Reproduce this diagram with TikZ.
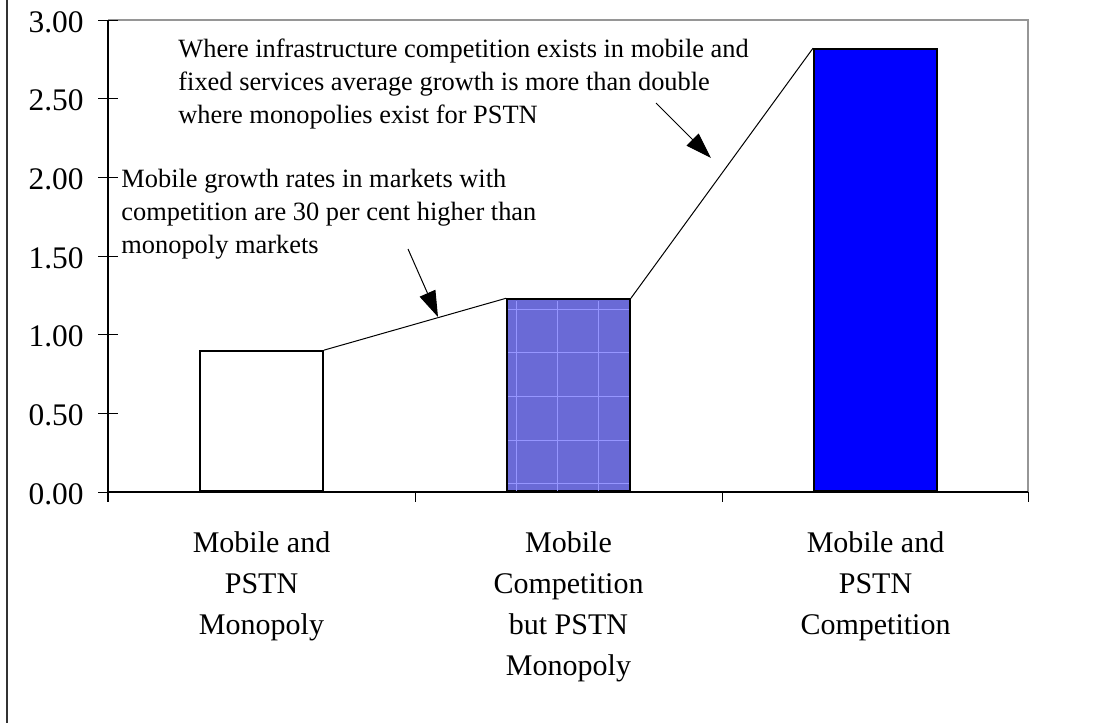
\documentclass[tikz,border=0pt]{standalone}
\usepackage{fontspec}
\setmainfont{Liberation Serif}
\usetikzlibrary{arrows.meta,positioning,calc}
\definecolor{barblue}{RGB}{0,0,255}
\definecolor{hatchblue}{RGB}{106,106,214}
\definecolor{gridblue}{RGB}{150,150,255}
\definecolor{framegray}{RGB}{150,150,150}

\begin{document}
\begin{tikzpicture}[x=0.5pt,y=-0.5pt,
    bar/.style={draw=black,line width=0.9pt,anchor=south,minimum width=61.5pt,inner sep=0pt},
    note/.style={font=\fontsize{13.2}{16.5}\selectfont,align=left,inner sep=0pt,anchor=base west},
    ticklabel/.style={font=\fontsize{15.7}{19}\selectfont,anchor=east,inner sep=0pt},
    catlabel/.style={font=\fontsize{15}{20.5}\selectfont,align=center,inner sep=0pt,anchor=base}]
    \useasboundingbox (0,0) rectangle (1098,723);
    \draw[line width=0.6pt,black!80] (7,0) -- (7,723);
    % plot area and axes
    \draw[framegray,line width=0.8pt] (108,20) -- (1028,20) -- (1028,492);
    \draw[line width=0.6pt] (108,20) -- (108,502);
    \draw[line width=0.6pt] (108,492) -- (1028,492);
    \foreach \v [count=\i] in {0.00,0.50,1.00,1.50,2.00,2.50,3.00} {
        \draw[line width=0.5pt] (98,{492-157.33*\v}) -- (118,{492-157.33*\v});
        \node[ticklabel] (tick\i) at (84,{494-157.33*\v}) {\v};
    }
    \foreach \x in {108,415,722,1028} {
        \draw[line width=0.5pt] (\x,492) -- (\x,502);
    }
    % bars
    \node[bar,fill=white,minimum height={0.89*78.67pt}] (bar1) at (261.5,492) {};
    \node[bar,fill=hatchblue,minimum height={1.22*78.67pt}] (bar2) at (568.5,492) {};
    \foreach \x in {516,557,598} {
        \draw[gridblue,line width=0.5pt] (\x,301) -- (\x,491);
    }
    \foreach \y in {309,352,396,440,483} {
        \draw[gridblue,line width=0.5pt] (508,\y) -- (629,\y);
    }
    \node[bar,fill=barblue,minimum height={2.81*78.67pt}] (bar3) at (875.5,492) {};
    \draw[line width=0.5pt] (bar1.north east) -- (bar2.north west);
    \draw[line width=0.5pt] (bar2.north east) -- (bar3.north west);
    % annotations (base = last line)
    \node[note] (noteA) at (121,253) {Mobile growth rates in markets with\\competition are 30 per cent higher than\\monopoly markets};
    \node[note] (noteB) at (178,123) {Where infrastructure competition exists in mobile and\\fixed services average growth is more than double\\where monopolies exist for PSTN};
    \coordinate (arrAs) at (408,249);
    \coordinate (arrAe) at (438,317);
    \coordinate (arrBs) at (656,103);
    \coordinate (arrBe) at (711,158);
    \draw[line width=0.5pt,-{Triangle[length=13pt,width=8.5pt]}] (arrAs) -- (arrAe);
    \draw[line width=0.5pt,-{Triangle[length=13pt,width=8.5pt]}] (arrBs) -- (arrBe);
    % category labels
    \node[catlabel] (catA) at (261.5,634) {Mobile and\\PSTN\\Monopoly};
    \node[catlabel] (catB) at (568.5,675) {Mobile\\Competition\\but PSTN\\Monopoly};
    \node[catlabel] (catC) at (875.5,634) {Mobile and\\PSTN\\Competition};
\end{tikzpicture}
\end{document}
